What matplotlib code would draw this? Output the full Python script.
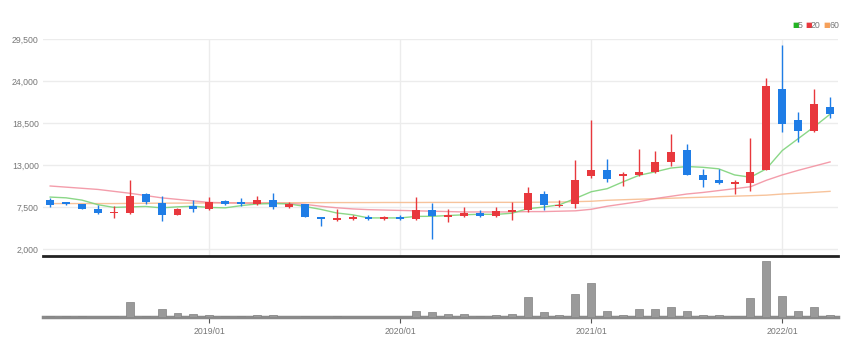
import numpy as np
import pandas as pd
import matplotlib
matplotlib.use("Agg")
import matplotlib.pyplot as plt

# monthly candles 2018/03 .. 2022/04
months = pd.period_range("2018-03", periods=50, freq="M")

opens = [8400, 8150, 7850, 7300, 6650, 6700, 9150, 8000, 6500, 7650,
         7300, 8250, 8100, 7850, 8400, 7450, 7850, 6200, 5800, 5950,
         6200, 5900, 6250, 5900, 7050, 6150, 6300, 6750, 6350, 6800,
         7050, 9250, 7600, 7950, 11550, 12400, 11600, 11750, 12100, 13400,
         14900, 11650, 11000, 10500, 10650, 12400, 22900, 18950, 17400, 20600]
highs = [8700, 8200, 7900, 7700, 7600, 11000, 9300, 9000, 7400, 8400,
         8800, 8400, 8700, 9000, 9300, 8100, 7950, 6250, 7300, 6400,
         6400, 6350, 6450, 8800, 8000, 7300, 7500, 7100, 7500, 8150,
         10100, 9600, 8400, 13700, 18900, 13850, 12100, 15150, 14850, 17100,
         15700, 12450, 12500, 11100, 16550, 24400, 28700, 19950, 23000, 21900]
lows = [7500, 7700, 7200, 6550, 6000, 6600, 7950, 5700, 6400, 6900,
        7150, 7750, 7600, 7750, 7300, 7400, 6150, 5050, 5700, 5750,
        5750, 5800, 5800, 5800, 3350, 5550, 6200, 6200, 6250, 5750,
        6900, 7150, 7500, 7400, 11350, 10800, 10200, 11600, 12000, 12850,
        11650, 10100, 10550, 9150, 9600, 12300, 17300, 16000, 17300, 19200]
closes = [7800, 7850, 7300, 6650, 6800, 8950, 8150, 6400, 7300, 7200,
          8150, 7900, 7850, 8400, 7450, 7950, 6200, 5950, 6050, 6250,
          5900, 6200, 5950, 7050, 6300, 6400, 6700, 6300, 6950, 7050,
          9350, 7800, 7800, 11100, 12300, 11150, 11850, 12100, 13400, 14700,
          11750, 11000, 10700, 10750, 12100, 23300, 18400, 17400, 21050, 19650]

ma5 = [8800, 8700, 8400, 7800, 7450, 7510, 7570, 7390, 7520, 7600,
       7440, 7390, 7680, 7900, 7950, 7910, 7570, 7190, 6720, 6480,
       6070, 6070, 6070, 6270, 6280, 6380, 6480, 6550, 6530, 6680,
       7270, 7490, 7790, 8620, 9500, 9900, 10800, 11650, 12100, 12600,
       12800, 12700, 12500, 11700, 11400, 12500, 14900, 16450, 18000, 19650]
ma20 = [10250, 10100, 9950, 9800, 9550, 9300, 9000, 8700, 8500, 8300,
        8100, 8050, 8000, 8000, 8000, 7950, 7850, 7600, 7400, 7250,
        7150, 7100, 7050, 7000, 6950, 6900, 6850, 6850, 6850, 6850,
        6900, 6900, 6950, 7000, 7200, 7600, 7900, 8200, 8600, 8900,
        9200, 9400, 9650, 9900, 10150, 11000, 11700, 12300, 12850, 13400]
ma60 = [7950, 7950, 7950, 7950, 7950, 7970, 7990, 8000, 8010, 8020,
        8030, 8040, 8050, 8050, 8060, 8060, 8070, 8070, 8080, 8080,
        8080, 8090, 8090, 8090, 8100, 8100, 8100, 8100, 8110, 8110,
        8120, 8130, 8150, 8200, 8250, 8380, 8450, 8520, 8580, 8650,
        8720, 8780, 8850, 8920, 8980, 9050, 9200, 9300, 9420, 9550]

volume = [10, 10, 10, 0, 10, 143, 10, 77, 37, 27,
          20, 10, 10, 20, 20, 0, 10, 0, 10, 0,
          0, 0, 0, 60, 43, 27, 27, 10, 23, 27,
          183, 43, 23, 217, 317, 60, 23, 77, 77, 93,
          57, 20, 20, 10, 177, 527, 200, 60, 93, 20]

yticks = [2000, 7500, 13000, 18500, 24000, 29500]

RED = "#e8383d"
BLUE = "#1f7de6"
GRID = "#ececec"
TXT = "#777777"
tick_font = ["Liberation Sans", "DejaVu Sans"]

fig = plt.figure(figsize=(8.55, 3.55), dpi=100)
W, H = 855, 355

def px_axes(x0, y0, x1, y1):
    return fig.add_axes([x0 / W, 1 - y1 / H, (x1 - x0) / W, (y1 - y0) / H])

ax = px_axes(43, 39, 838, 256)
vax = px_axes(43, 258, 838, 317)

x = np.arange(len(months))
o = np.array(opens); c = np.array(closes)
colors = [RED if cc >= oo else BLUE for oo, cc in zip(o, c)]
bottoms = np.minimum(o, c)
heights = np.maximum(np.abs(c - o), 110)

ax.vlines(x, lows, highs, colors=colors, linewidth=1.0, zorder=3)
ax.bar(x, heights, bottom=bottoms, width=0.5, color=colors, zorder=4)

ax.plot(x, ma60, color="#f6b98a", linewidth=1.0, alpha=0.85, zorder=2)
ax.plot(x, ma20, color="#f28c9c", linewidth=1.0, alpha=0.85, zorder=2)
ax.plot(x, ma5, color="#7ed37a", linewidth=1.0, alpha=0.9, zorder=2)

xlim = (-0.45, len(months) - 0.5)
ax.set_xlim(*xlim)
ax.set_ylim(1083, 29500)
ax.set_yticks(yticks)
ax.set_yticklabels([f"{v:,}" for v in yticks], fontsize=6.3, color=TXT,
                   family=tick_font)
ax.tick_params(axis="y", length=0, pad=3)
year_idx = [i for i, m in enumerate(months) if m.month == 1]
ax.set_xticks(year_idx)
ax.tick_params(axis="x", length=0, labelbottom=False)
ax.grid(True, color=GRID, linewidth=1.0, zorder=0)
for s in ["top", "left", "right"]:
    ax.spines[s].set_visible(False)
ax.spines["bottom"].set_color("#222222")
ax.spines["bottom"].set_linewidth(2.0)

# volume
vax.bar(x, volume, width=0.5, color="#9a9a9a", edgecolor="#808080",
        linewidth=0.5, zorder=3)
vax.set_xlim(*xlim)
vax.set_ylim(0, max(volume) * 1.05)
vax.set_yticks([])
vax.set_xticks(year_idx)
vax.set_xticklabels([months[i].strftime("%Y/%m") for i in year_idx],
                    fontsize=6.3, color=TXT, family=tick_font)
vax.tick_params(axis="x", length=4, width=0.8, color="#555555", pad=3)
for s in ["top", "left", "right"]:
    vax.spines[s].set_visible(False)
vax.spines["bottom"].set_color("#8a8a8a")
vax.spines["bottom"].set_linewidth(2.5)

# legend
items = [("5", "#22b422", 792, 798), ("20", "#e8383d", 805, 811),
         ("60", "#f5a05a", 823, 829)]
for lab, col, sq, tx in items:
    fig.text(sq / W, 1 - 25 / H, "\u25a0", color=col, fontsize=5,
             va="center", ha="left")
    fig.text(tx / W, 1 - 25 / H, lab, color=TXT, fontsize=6.3,
             va="center", ha="left", family=tick_font)

fig.savefig("out.png", dpi=100, facecolor="white")
